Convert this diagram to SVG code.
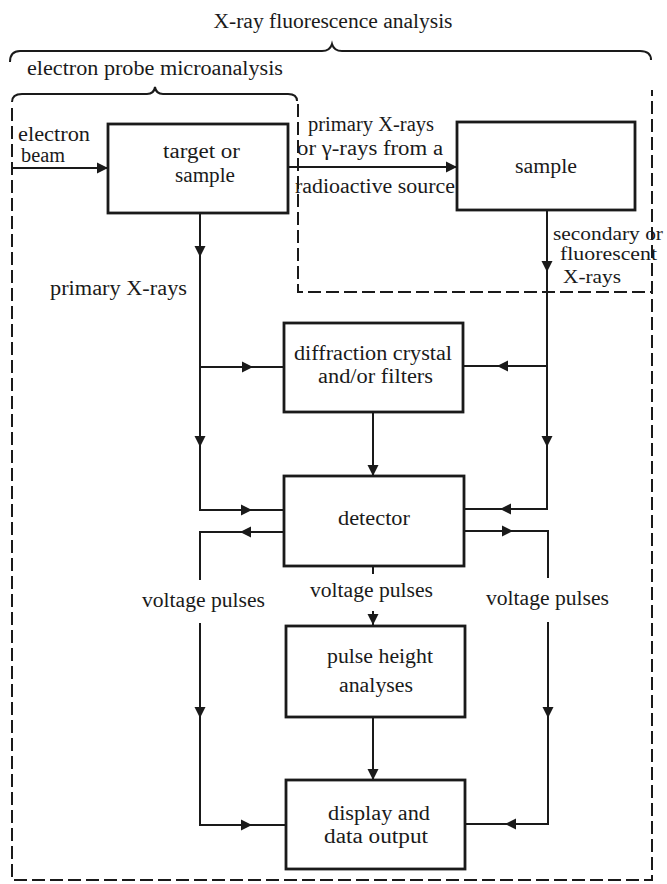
<svg xmlns="http://www.w3.org/2000/svg" xmlns:xlink="http://www.w3.org/1999/xlink" width="667" height="884" viewBox="0 0 667 884">
<style>
  text { font-family: "Liberation Serif", "Times New Roman", Times, "DejaVu Serif", serif; font-size: 20px; fill: #1a1a1a; }
  .sm { font-size: 18px; }
  .box { fill: #fff; stroke: #1a1a1a; stroke-width: 2.8; }
  .line { fill: none; stroke: #1a1a1a; stroke-width: 2; }
  .dash { fill: none; stroke: #1a1a1a; stroke-width: 2; stroke-dasharray: 13 5; }
  .brace { fill: none; stroke: #1a1a1a; stroke-width: 2; }
  .c { text-anchor: middle; }
</style>
<defs>
  <path id="ah" d="M0,0 L-11,-5.5 L-11,5.5 Z" fill="#1a1a1a"/>
</defs>
<rect width="667" height="884" fill="#fff"/>

<g id="regions">
  <text class="c" x="333" y="28" textLength="239" lengthAdjust="spacingAndGlyphs">X-ray fluorescence analysis</text>
  <path class="brace" d="M10,62 Q10,51 20,51 L322,51 Q330,51 332,44 Q334,51 342,51 L640,51 Q651,51 651,60"/>
  <text class="c" x="155" y="75" textLength="256" lengthAdjust="spacingAndGlyphs">electron probe microanalysis</text>
  <path class="brace" d="M12,102 Q12,94 22,94 L147,94 Q154,94 155,87 Q156,94 163,94 L288,94 Q297,94 297,101"/>
  <path class="dash" d="M12,108 V880 H652 V90"/>
  <path class="dash" d="M298,104 V292 H652"/>
</g>

<g id="connectors">
  <path class="line" d="M12,168 H108"/>
  <path class="line" d="M288,167 H457"/>
  <path class="line" d="M200,213 V510 H284 M200,367 H284"/>
  <path class="line" d="M547,210 V509 H464 M547,366 H463"/>
  <path class="line" d="M373,412 V476"/>
  <path class="line" d="M284,532 H200 V580 M200,623 V825 H286"/>
  <path class="line" d="M464,531 H548 V578 M548,622 V824 H465"/>
  <path class="line" d="M373,566 V574 M373,611 V626"/>
  <path class="line" d="M373,717 V780"/>
  <use xlink:href="#ah" transform="translate(108,168)"/>
  <use xlink:href="#ah" transform="translate(457,167)"/>
  <use xlink:href="#ah" transform="translate(200,257) rotate(90)"/>
  <use xlink:href="#ah" transform="translate(547,272) rotate(90)"/>
  <use xlink:href="#ah" transform="translate(253,367)"/>
  <use xlink:href="#ah" transform="translate(497,366) rotate(180)"/>
  <use xlink:href="#ah" transform="translate(200,447) rotate(90)"/>
  <use xlink:href="#ah" transform="translate(547,447) rotate(90)"/>
  <use xlink:href="#ah" transform="translate(373,476) rotate(90)"/>
  <use xlink:href="#ah" transform="translate(252,510)"/>
  <use xlink:href="#ah" transform="translate(240,532) rotate(180)"/>
  <use xlink:href="#ah" transform="translate(500,509) rotate(180)"/>
  <use xlink:href="#ah" transform="translate(513,531)"/>
  <use xlink:href="#ah" transform="translate(373,625) rotate(90)"/>
  <use xlink:href="#ah" transform="translate(200,718) rotate(90)"/>
  <use xlink:href="#ah" transform="translate(548,718) rotate(90)"/>
  <use xlink:href="#ah" transform="translate(373,780) rotate(90)"/>
  <use xlink:href="#ah" transform="translate(252,825)"/>
  <use xlink:href="#ah" transform="translate(505,824) rotate(180)"/>
</g>

<g id="labels">
  <text x="18" y="141" textLength="72" lengthAdjust="spacingAndGlyphs">electron</text>
  <text x="21" y="162" textLength="44" lengthAdjust="spacingAndGlyphs">beam</text>
  <text x="50" y="295" textLength="137" lengthAdjust="spacingAndGlyphs">primary X-rays</text>
  <text x="308" y="131" textLength="126" lengthAdjust="spacingAndGlyphs">primary X-rays</text>
  <text x="297" y="155" textLength="146" lengthAdjust="spacingAndGlyphs">or γ-rays from a</text>
  <text x="295" y="193" textLength="160" lengthAdjust="spacingAndGlyphs">radioactive source</text>
  <text class="sm" x="553" y="240" textLength="110" lengthAdjust="spacingAndGlyphs">secondary or</text>
  <text class="sm" x="560" y="260" textLength="97" lengthAdjust="spacingAndGlyphs">fluorescent</text>
  <text class="sm" x="563" y="283" textLength="58" lengthAdjust="spacingAndGlyphs">X-rays</text>
  <text x="142" y="607" textLength="123" lengthAdjust="spacingAndGlyphs">voltage pulses</text>
  <text x="310" y="597" textLength="123" lengthAdjust="spacingAndGlyphs">voltage pulses</text>
  <text x="486" y="605" textLength="123" lengthAdjust="spacingAndGlyphs">voltage pulses</text>
</g>

<g id="target">
  <rect class="box" x="108" y="124" width="180" height="89"/>
  <text x="163" y="158" textLength="77" lengthAdjust="spacingAndGlyphs">target or</text>
  <text x="175" y="182" textLength="60" lengthAdjust="spacingAndGlyphs">sample</text>
</g>

<g id="sample">
  <rect class="box" x="457" y="122" width="178" height="88"/>
  <text x="515" y="173" textLength="62" lengthAdjust="spacingAndGlyphs">sample</text>
</g>

<g id="diffraction">
  <rect class="box" x="284" y="323" width="179" height="89"/>
  <text x="294" y="360" textLength="158" lengthAdjust="spacingAndGlyphs">diffraction crystal</text>
  <text x="318" y="383" textLength="115" lengthAdjust="spacingAndGlyphs">and/or filters</text>
</g>

<g id="detector">
  <rect class="box" x="284" y="476" width="180" height="90"/>
  <text x="338" y="525" textLength="72" lengthAdjust="spacingAndGlyphs">detector</text>
</g>

<g id="pulse">
  <rect class="box" x="286" y="626" width="179" height="91"/>
  <text x="327" y="663" textLength="106" lengthAdjust="spacingAndGlyphs">pulse height</text>
  <text x="339" y="692" textLength="74" lengthAdjust="spacingAndGlyphs">analyses</text>
</g>

<g id="display">
  <rect class="box" x="286" y="780" width="179" height="89"/>
  <text x="328" y="820" textLength="102" lengthAdjust="spacingAndGlyphs">display and</text>
  <text x="324" y="843" textLength="104" lengthAdjust="spacingAndGlyphs">data output</text>
</g>
</svg>
